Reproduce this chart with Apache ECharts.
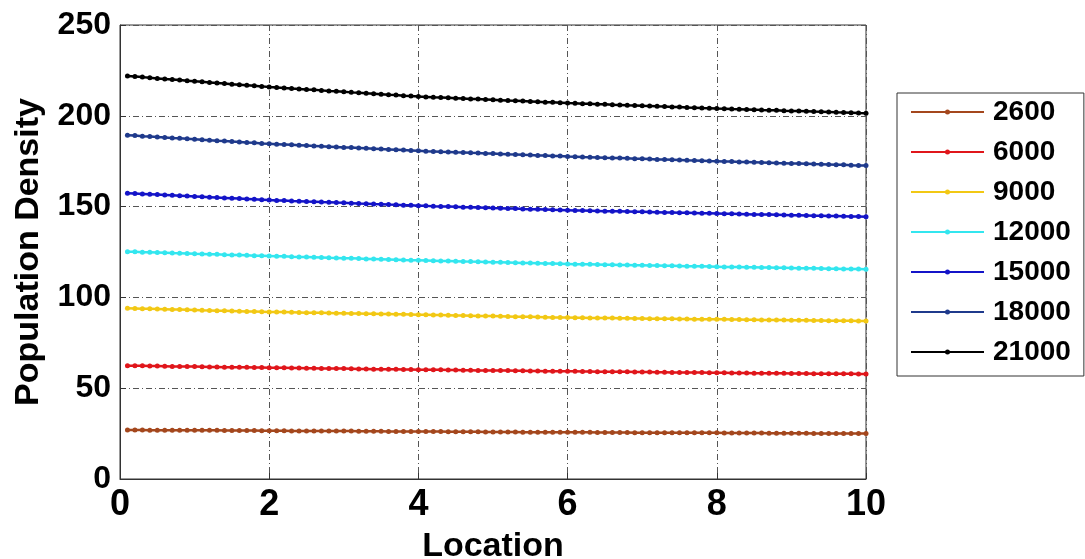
<!DOCTYPE html>
<html>
<head>
<meta charset="utf-8">
<script src="https://cdn.jsdelivr.net/npm/echarts@6/dist/echarts.min.js"></script>
<style>
html,body{margin:0;padding:0;background:#fff;}
#chart{width:1085px;height:559px;}
</style>
</head>
<body>
<div id="chart"></div>
<script>
const location_x = [0.1,0.2,0.3,0.4,0.5,0.6,0.7,0.8,0.9,1.0,1.1,1.2,1.3,1.4,1.5,1.6,1.7,1.8,1.9,2.0,2.1,2.2,2.3,2.4,2.5,2.6,2.7,2.8,2.9,3.0,3.1,3.2,3.3,3.4,3.5,3.6,3.7,3.8,3.9,4.0,4.1,4.2,4.3,4.4,4.5,4.6,4.7,4.8,4.9,5.0,5.1,5.2,5.3,5.4,5.5,5.6,5.7,5.8,5.9,6.0,6.1,6.2,6.3,6.4,6.5,6.6,6.7,6.8,6.9,7.0,7.1,7.2,7.3,7.4,7.5,7.6,7.7,7.8,7.9,8.0,8.1,8.2,8.3,8.4,8.5,8.6,8.7,8.8,8.9,9.0,9.1,9.2,9.3,9.4,9.5,9.6,9.7,9.8,9.9,10.0];

const d2600 = [27.0,27.0,27.0,26.9,26.9,26.9,26.9,26.9,26.8,26.8,26.8,26.8,26.8,26.7,26.7,26.7,26.7,26.7,26.6,26.6,26.6,26.6,26.5,26.5,26.5,26.5,26.5,26.4,26.4,26.4,26.4,26.3,26.3,26.3,26.3,26.2,26.2,26.2,26.2,26.1,26.1,26.1,26.1,26.0,26.0,26.0,26.0,26.0,25.9,25.9,25.9,25.9,25.9,25.8,25.8,25.8,25.8,25.8,25.7,25.7,25.7,25.7,25.7,25.6,25.6,25.6,25.6,25.6,25.5,25.5,25.5,25.5,25.5,25.5,25.4,25.4,25.4,25.4,25.4,25.4,25.3,25.3,25.3,25.3,25.3,25.3,25.2,25.2,25.2,25.2,25.2,25.2,25.1,25.1,25.1,25.1,25.1,25.1,25.1,25.1];

const d6000 = [62.4,62.3,62.3,62.2,62.2,62.1,62.0,62.0,61.9,61.9,61.8,61.7,61.7,61.6,61.6,61.5,61.5,61.4,61.4,61.3,61.2,61.2,61.1,61.1,61.0,61.0,60.9,60.9,60.8,60.8,60.7,60.6,60.6,60.5,60.5,60.4,60.4,60.3,60.3,60.2,60.2,60.1,60.1,60.0,60.0,59.9,59.9,59.8,59.8,59.7,59.7,59.7,59.6,59.6,59.5,59.5,59.4,59.4,59.3,59.3,59.3,59.2,59.2,59.1,59.1,59.1,59.0,59.0,58.9,58.9,58.9,58.8,58.8,58.7,58.7,58.7,58.6,58.6,58.5,58.5,58.5,58.4,58.4,58.4,58.3,58.3,58.2,58.2,58.2,58.1,58.1,58.1,58.0,58.0,58.0,57.9,57.9,57.9,57.8,57.8];

const d9000 = [94.0,93.9,93.8,93.7,93.6,93.5,93.4,93.3,93.2,93.1,92.9,92.8,92.7,92.6,92.5,92.4,92.3,92.2,92.1,92.0,91.9,91.9,91.8,91.7,91.6,91.6,91.5,91.4,91.3,91.3,91.2,91.1,91.0,91.0,90.9,90.8,90.7,90.7,90.6,90.5,90.4,90.3,90.3,90.2,90.1,90.0,89.9,89.8,89.7,89.7,89.6,89.5,89.4,89.3,89.3,89.2,89.1,89.0,89.0,88.9,88.8,88.8,88.7,88.7,88.6,88.6,88.5,88.5,88.4,88.4,88.3,88.3,88.2,88.2,88.1,88.1,88.0,88.0,87.9,87.9,87.9,87.8,87.8,87.7,87.7,87.6,87.6,87.5,87.5,87.4,87.4,87.4,87.3,87.3,87.2,87.2,87.1,87.1,87.0,87.0];

const d12000 = [125.2,125.1,124.9,124.8,124.7,124.6,124.4,124.3,124.2,124.0,123.9,123.8,123.7,123.5,123.4,123.3,123.2,123.0,122.9,122.8,122.7,122.6,122.4,122.3,122.2,122.1,122.0,121.8,121.7,121.6,121.5,121.4,121.2,121.1,121.0,120.9,120.8,120.6,120.5,120.4,120.3,120.2,120.1,120.0,119.9,119.8,119.7,119.6,119.5,119.4,119.3,119.2,119.1,119.0,118.9,118.8,118.7,118.6,118.5,118.4,118.3,118.3,118.2,118.1,118.0,118.0,117.9,117.8,117.7,117.7,117.6,117.5,117.4,117.4,117.3,117.2,117.1,117.1,117.0,116.9,116.8,116.8,116.7,116.6,116.6,116.5,116.4,116.3,116.3,116.2,116.1,116.1,116.0,115.9,115.8,115.8,115.7,115.6,115.6,115.5];

const d15000 = [157.4,157.2,157.0,156.8,156.6,156.4,156.2,156.0,155.8,155.6,155.4,155.2,155.0,154.8,154.6,154.4,154.2,154.0,153.8,153.6,153.4,153.3,153.1,153.0,152.8,152.7,152.5,152.4,152.2,152.1,151.9,151.7,151.6,151.4,151.3,151.1,151.0,150.8,150.7,150.5,150.4,150.2,150.1,150.0,149.9,149.7,149.6,149.5,149.4,149.2,149.1,149.0,148.9,148.7,148.6,148.5,148.4,148.2,148.1,148.0,147.9,147.8,147.7,147.6,147.5,147.5,147.4,147.3,147.2,147.1,147.0,146.9,146.8,146.7,146.6,146.6,146.5,146.4,146.3,146.2,146.1,146.0,145.9,145.8,145.7,145.7,145.6,145.5,145.4,145.3,145.2,145.1,145.0,144.9,144.8,144.8,144.7,144.6,144.5,144.4];

const d18000 = [189.3,189.1,188.8,188.6,188.3,188.1,187.8,187.6,187.3,187.1,186.8,186.6,186.3,186.1,185.8,185.6,185.3,185.1,184.8,184.6,184.4,184.2,184.0,183.8,183.6,183.4,183.2,183.0,182.8,182.6,182.5,182.3,182.1,181.9,181.7,181.5,181.3,181.1,180.9,180.7,180.5,180.4,180.2,180.1,179.9,179.8,179.6,179.5,179.3,179.2,179.0,178.8,178.7,178.5,178.4,178.2,178.1,177.9,177.8,177.6,177.5,177.3,177.2,177.1,176.9,176.8,176.7,176.6,176.4,176.3,176.2,176.0,175.9,175.8,175.7,175.5,175.4,175.3,175.1,175.0,174.9,174.8,174.6,174.5,174.4,174.3,174.2,174.0,173.9,173.8,173.7,173.6,173.4,173.3,173.2,173.1,173.0,172.8,172.7,172.6];

const d21000 = [221.9,221.6,221.3,220.9,220.6,220.3,220.0,219.7,219.3,219.0,218.7,218.4,218.1,217.8,217.4,217.1,216.8,216.5,216.2,215.8,215.6,215.3,215.0,214.8,214.5,214.3,214.0,213.7,213.5,213.2,212.9,212.7,212.4,212.2,211.9,211.6,211.4,211.1,210.9,210.6,210.4,210.2,210.1,209.9,209.7,209.5,209.3,209.2,209.0,208.8,208.6,208.4,208.3,208.1,207.9,207.7,207.5,207.4,207.2,207.0,206.9,206.7,206.6,206.4,206.3,206.1,206.0,205.8,205.7,205.5,205.4,205.2,205.1,204.9,204.8,204.6,204.5,204.3,204.2,204.0,203.9,203.7,203.6,203.5,203.4,203.2,203.1,203.0,202.8,202.7,202.6,202.5,202.3,202.2,202.1,201.9,201.8,201.7,201.5,201.4];

const seriesNames = ['2600','6000','9000','12000','15000','18000','21000'];
const seriesData = [d2600, d6000, d9000, d12000, d15000, d18000, d21000];
const seriesColors = ['#a4471d','#e0161b','#f2c814','#33e6ef','#1414c8','#1f3a8c','#000000'];
const xTicks = [0,2,4,6,8,10];
const yTicks = [0,50,100,150,200,250];

const FONT = '"Liberation Sans", Arial, sans-serif';
const chart = echarts.init(document.getElementById('chart'));

const LEGEND_ICON = 'path://M0,1.5L73,1.5L73,3.5L0,3.5Z M34,2.5A2.5,2.5,0,0,1,39,2.5A2.5,2.5,0,0,1,34,2.5Z';

const series = seriesNames.map((name, i) => ({
  name: name,
  type: 'line',
  data: location_x.map((x, j) => [x, seriesData[i][j]]),
  symbol: 'circle',
  symbolSize: 5,
  showSymbol: true,
  lineStyle: { color: seriesColors[i], width: 2.5 },
  itemStyle: { color: seriesColors[i] },
  animation: false,
  z: 3
}));

const gridLine = { show: true, lineStyle: { color: '#555', width: 1, type: [6, 3, 1, 3] } };

chart.setOption({
  backgroundColor: '#fff',
  animation: false,
  grid: { left: 120, right: 219, top: 25, bottom: 80, show: true, borderColor: '#333', borderWidth: 1, backgroundColor: 'transparent', containLabel: false, outerBoundsMode: 'none' },
  xAxis: {
    type: 'value', min: xTicks[0], max: xTicks[xTicks.length - 1], interval: 2,
    name: 'Location', nameLocation: 'middle', nameGap: 51,
    nameTextStyle: { fontFamily: FONT, fontWeight: 'bold', fontSize: 34, color: '#000' },
    axisLine: { show: true, onZero: false, lineStyle: { color: '#333', width: 1 } },
    axisTick: { show: true, inside: true, length: 6, lineStyle: { color: '#333' } },
    axisLabel: { fontFamily: FONT, fontWeight: 'bold', fontSize: 36, color: '#000', margin: 8 },
    splitLine: gridLine
  },
  yAxis: {
    type: 'value', min: yTicks[0], max: yTicks[yTicks.length - 1], interval: 50,
    name: 'Population Density', nameLocation: 'middle', nameGap: 74, nameRotate: 90,
    nameTextStyle: { fontFamily: FONT, fontWeight: 'bold', fontSize: 34, color: '#000' },
    axisLine: { show: true, lineStyle: { color: '#333', width: 1 } },
    axisTick: { show: true, inside: true, length: 6, lineStyle: { color: '#333' } },
    axisLabel: { fontFamily: FONT, fontWeight: 'bold', fontSize: 32, color: '#000', margin: 9 },
    splitLine: gridLine
  },
  legend: {
    orient: 'vertical',
    left: 897, top: 93,
    data: seriesNames.map(n => ({ name: n, icon: LEGEND_ICON })),
    itemWidth: 73, itemHeight: 5, itemGap: 12,
    padding: [5, 13, 10, 14],
    borderColor: '#333', borderWidth: 1,
    backgroundColor: '#fff',
    textStyle: { fontFamily: FONT, fontWeight: 'bold', fontSize: 28, color: '#000', padding: [0, 0, 0, 4] },
    selectedMode: false
  },
  series: series
});
</script>
</body>
</html>
